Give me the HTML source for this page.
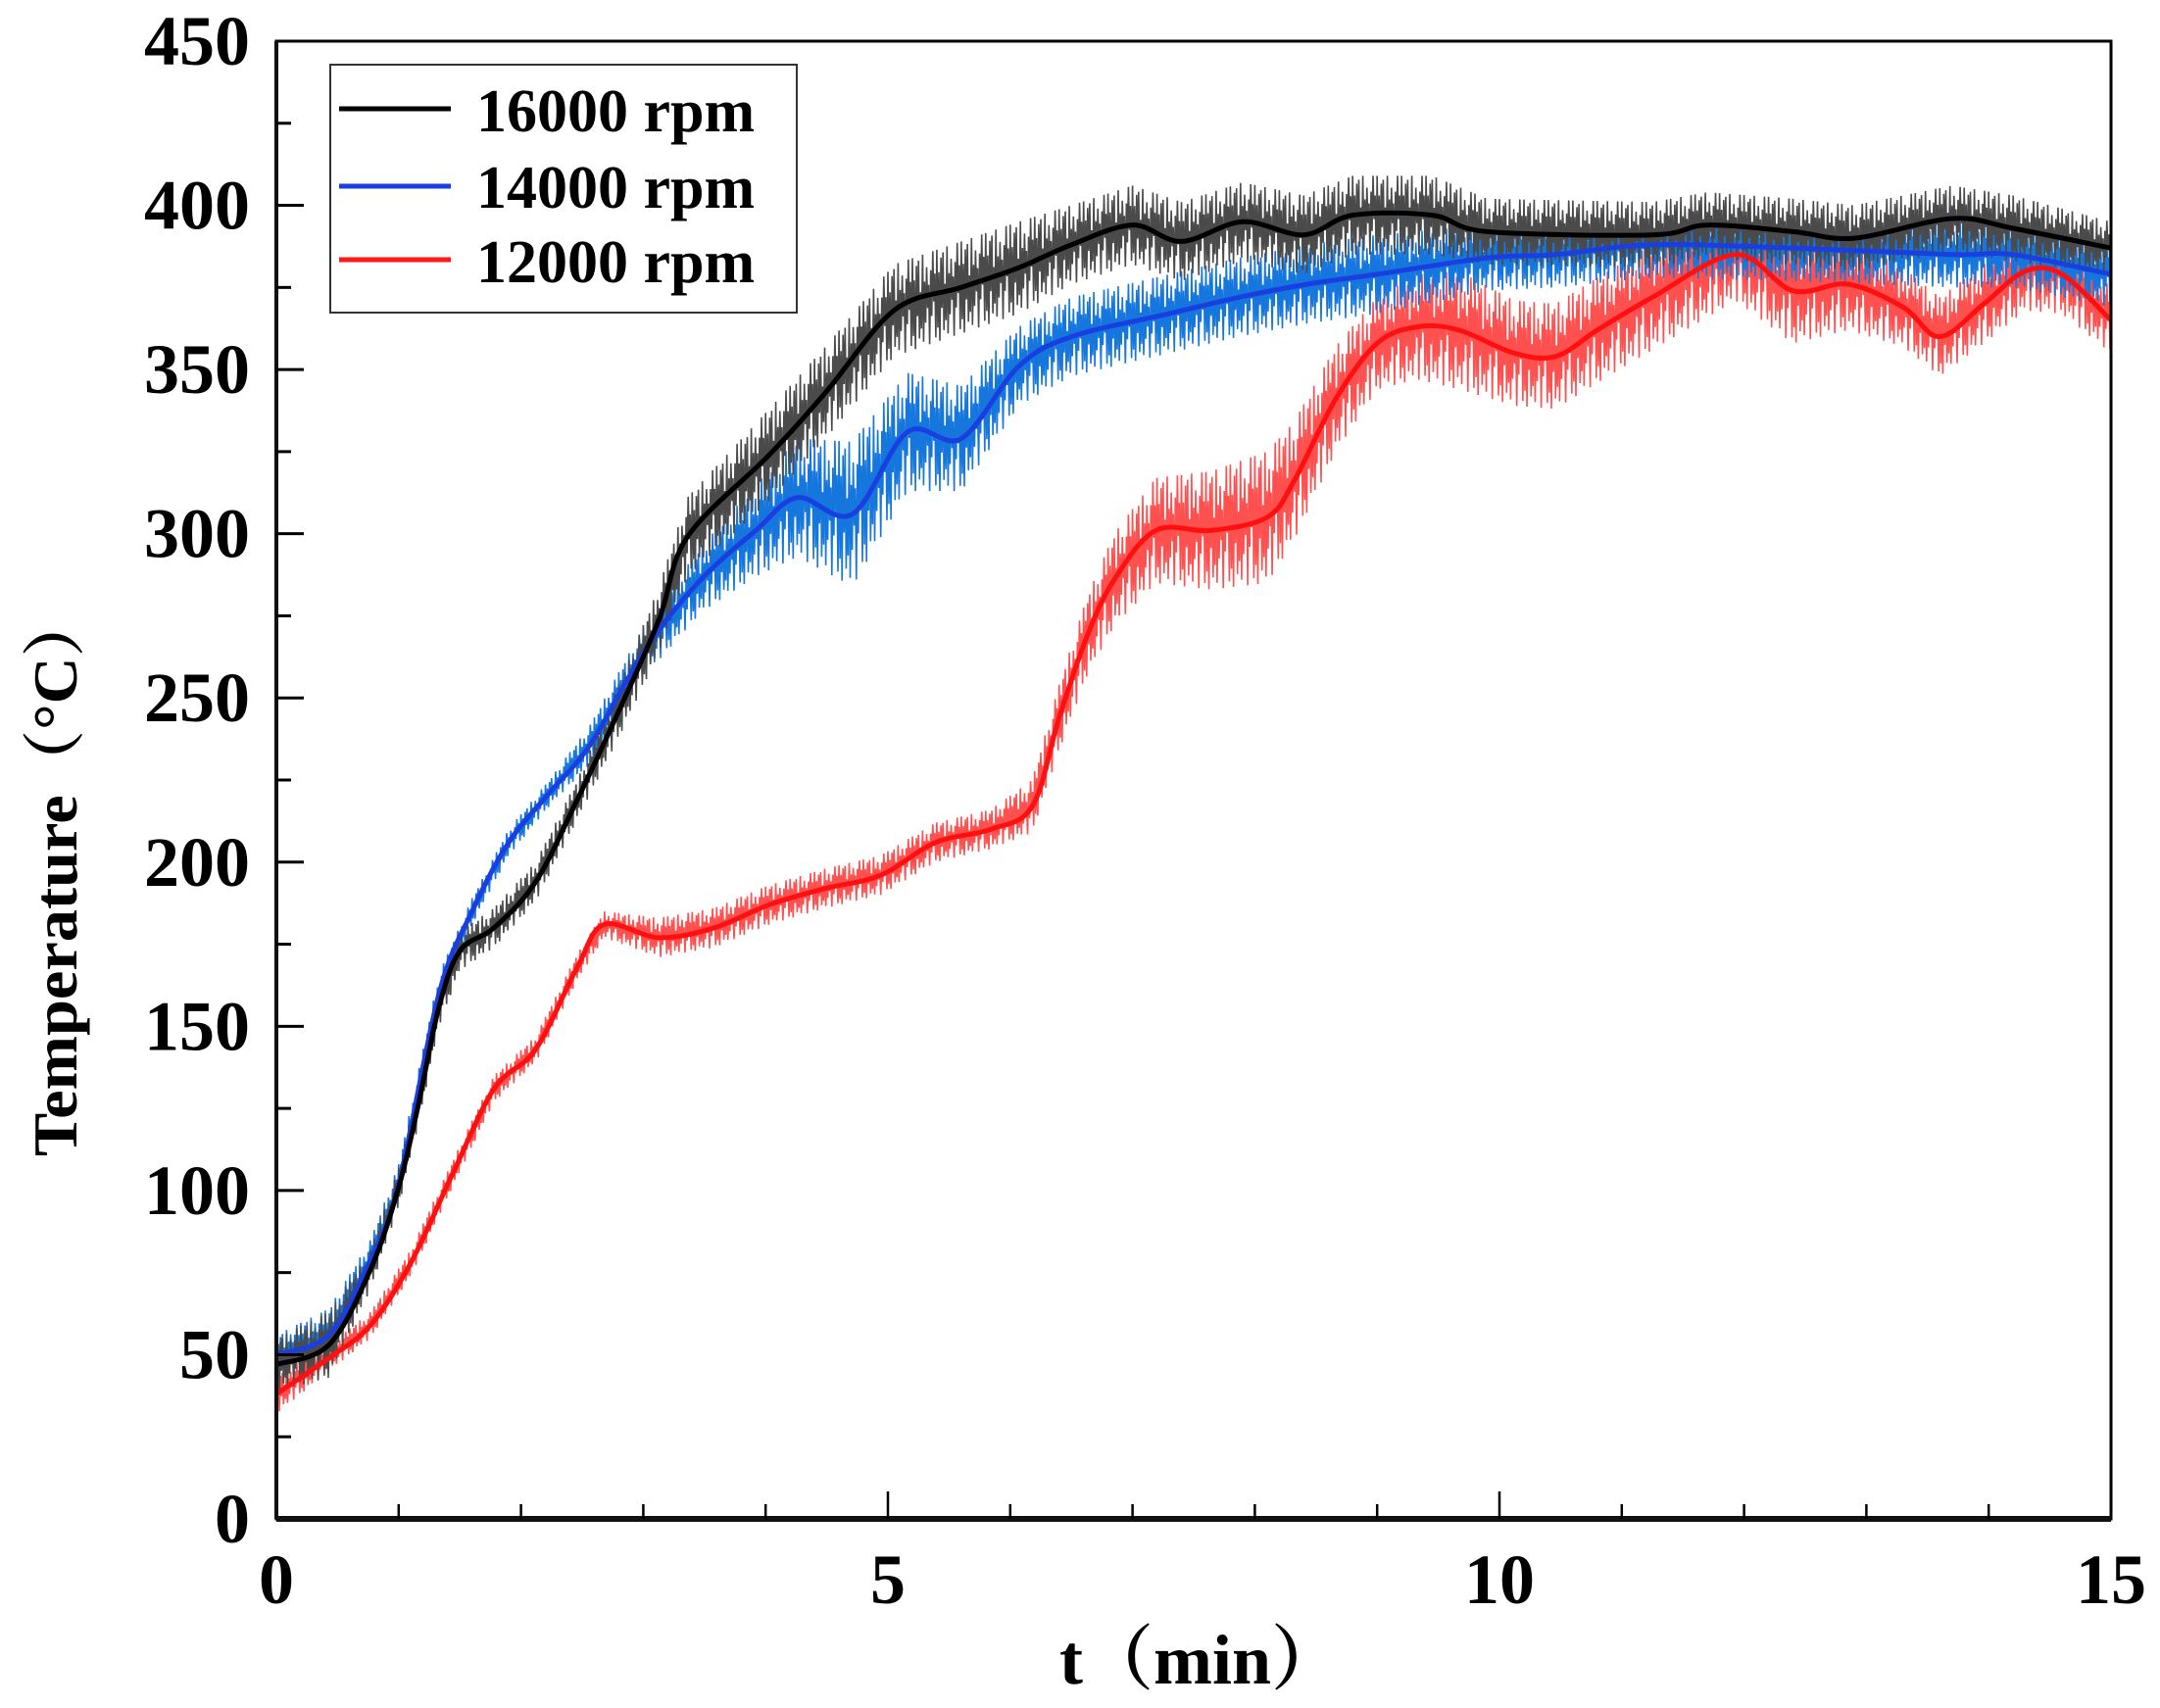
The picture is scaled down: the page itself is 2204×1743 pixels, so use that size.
<!DOCTYPE html>
<html><head><meta charset="utf-8"><style>
html,body{margin:0;padding:0;background:#fff;}
svg{display:block;}
text{font-family:"Liberation Serif","Noto Serif CJK SC",serif;font-weight:bold;fill:#000;}
</style></head><body>
<svg id="chart" width="2204" height="1743" viewBox="0 0 2204 1743" xmlns="http://www.w3.org/2000/svg">
<g id="raw"></g>
<g id="smooth"></g>
<g id="axes"></g>
<g>
<rect x="337" y="66" width="476" height="253" fill="#fff" stroke="#333" stroke-width="2"/>
<g><line x1="346" y1="111" x2="460" y2="111" stroke="#000" stroke-width="5"/><text x="486" y="134" font-size="62">16000 rpm</text></g>
<g><line x1="346" y1="190" x2="460" y2="190" stroke="#1a3fe0" stroke-width="5"/><text x="486" y="212" font-size="62">14000 rpm</text></g>
<g><line x1="346" y1="265" x2="460" y2="265" stroke="#ff1a1a" stroke-width="5"/><text x="486" y="288" font-size="62">12000 rpm</text></g>
</g>
<text transform="translate(78,892) rotate(-90)" text-anchor="middle" font-size="64" textLength="576" lengthAdjust="spacingAndGlyphs">Temperature（°C）</text>
<text x="1225" y="1718" text-anchor="middle" font-size="72">t（min）</text>
</svg>
<script>
const tBlack=[0,0.43,0.77,1,1.16,1.33,1.5,1.78,2.12,2.46,2.8,3.13,3.36,4.03,4.49,5.05,5.6,6.07,6.5,7,7.4,7.9,8.4,8.8,9.45,9.9,11.25,11.7,12.4,12.9,13.7,14.2,15];
const vBlack=[47,53,76,101,126,156,173,180,194,219,246,274,299,324,343,368,375,381,388,394,389,395,391,397,397,392,391,394,392,390,396,393,387];
const nBlack=[8,10,6,6,6,6,6,6,6,6,8,10,12,14,14,14,14,14,12,12,12,12,12,12,12,10,10,10,10,10,10,10,8];
const tBlue=[0,0.43,0.77,1,1.33,1.6,1.9,2.23,2.57,3.02,3.47,3.92,4.26,4.71,5.16,5.6,6.07,6.5,7.3,7.87,8.43,9,9.9,10.46,11.25,12.4,13.7,14.2,15];
const vBlue=[50,56,79,102,160,185,206,221,236,265,286,301,311,306,331,329,351,360,367,372,376,379,384,385,388,387,385,385,379];
const nBlue=[6,8,6,6,6,4,4,4,6,8,10,14,18,22,18,16,12,12,12,12,12,12,10,10,10,10,10,10,10];
const tRed=[0,0.43,0.77,1.1,1.44,1.78,2.12,2.46,2.68,3.13,3.58,4.03,4.49,4.94,5.39,5.84,6.18,6.4,6.63,6.85,7.19,7.64,8.1,8.32,8.66,9,9.33,9.67,10.12,10.46,10.8,11.25,11.93,12.4,12.85,13.3,13.6,13.96,14.3,14.6,15];
const vRed=[38,49,59,78,105,131,143,168,181,177,180,187,192,196,206,210,217,244,269,286,301,301,305,316,341,358,363,362,355,354,362,372,385,374,376,369,360,370,380,379,365];
const nRed=[6,4,4,4,4,4,4,4,4,6,6,6,6,6,6,6,8,10,12,14,16,18,20,18,16,14,16,18,16,16,16,16,14,16,14,12,12,12,12,12,10];
const xTicks=[0,5,10,15];
const yTicks=[0,50,100,150,200,250,300,350,400,450];
const X0=282,X1=2154,Y0=1550,Y1=42;
const sx=t=>X0+(X1-X0)*t/15, sy=v=>Y0-(Y0-Y1)*v/450;
const NS="http://www.w3.org/2000/svg";
function mk(tag,attrs,parent){const e=document.createElementNS(NS,tag);for(const k in attrs)e.setAttribute(k,attrs[k]);parent.appendChild(e);return e;}
function interp(ts,vs,t){for(let i=0;i<ts.length-1;i++){if(t<=ts[i+1]){const f=(t-ts[i])/(ts[i+1]-ts[i]);return vs[i]+f*(vs[i+1]-vs[i]);}}return vs[vs.length-1];}
const pattern=[1,-0.7,0.5,-1,0.8,-0.3,0.9,-0.8,0.2,-0.6,1,-0.9,0.4,-0.5,0.7,-0.2,0.3,-1,0.6,-0.4,1,-0.1,0.5,-0.9];
function drawSeries(ts,vs,ns,rawColor,color,name){
  const raw=document.getElementById('raw'),sm=document.getElementById('smooth');
  let pts=[];const N=1800;
  for(let i=0;i<=N;i++){const t=15*i/N;const v=interp(ts,vs,t)+interp(ts,ns,t)*pattern[i%pattern.length];pts.push(sx(t).toFixed(1)+','+sy(v).toFixed(1));}
  const r=mk('polyline',{points:pts.join(' '),fill:'none',stroke:rawColor,'stroke-width':1.6},raw);
  
  
  const P=ts.map((t,i)=>[sx(t),sy(vs[i])]);
  let d='M'+P[0][0]+','+P[0][1];
  for(let i=0;i<P.length-1;i++){
    const p0=P[Math.max(0,i-1)],p1=P[i],p2=P[i+1],p3=P[Math.min(P.length-1,i+2)];
    const c1=[p1[0]+(p2[0]-p0[0])/6,p1[1]+(p2[1]-p0[1])/6];
    const c2=[p2[0]-(p3[0]-p1[0])/6,p2[1]-(p3[1]-p1[1])/6];
    d+=' C'+c1[0].toFixed(1)+','+c1[1].toFixed(1)+' '+c2[0].toFixed(1)+','+c2[1].toFixed(1)+' '+p2[0].toFixed(1)+','+p2[1].toFixed(1);
  }
  const s=mk('path',{d:d,fill:'none',stroke:color,'stroke-width':5,'stroke-linejoin':'round'},sm);
  
  
}
drawSeries(tRed,vRed,nRed,'#ff5050','#ff1010','series-12000rpm');
drawSeries(tBlue,vBlue,nBlue,'#1577dd','#1a3fe0','series-14000rpm');
drawSeries(tBlack,vBlack,nBlack,'#4a4a4a','#000','series-16000rpm');
const ax=document.getElementById('axes');
const frame=mk('rect',{x:X0,y:Y1,width:X1-X0,height:Y0-Y1,fill:'none',stroke:'#000','stroke-width':3},ax);


const xl=mk('line',{x1:X0,y1:Y0,x2:X1,y2:Y0,stroke:'#111','stroke-width':6},ax);


const yl=mk('line',{x1:X0,y1:Y0,x2:X0,y2:Y1,stroke:'#111','stroke-width':4},ax);


for(let t=1;t<15;t++){const major=t%5===0;
  const tk=mk('line',{x1:sx(t),y1:Y0,x2:sx(t),y2:Y0-(major?28:15),stroke:'#000','stroke-width':2.5},ax);
  
  }
for(let v=25;v<450;v+=25){const major=v%50===0;
  const tk=mk('line',{x1:X0,y1:sy(v),x2:X0+(major?28:15),y2:sy(v),stroke:'#000','stroke-width':3},ax);
  
  }
xTicks.forEach(t=>{const e=mk('text',{x:sx(t),y:1636,'text-anchor':'middle','font-size':72},ax);e.textContent=String(t);
  
  });
yTicks.forEach(v=>{const e=mk('text',{x:255,y:sy(v)+24,'text-anchor':'end','font-size':72},ax);e.textContent=String(v);
  
  });
</script>
</body></html>
